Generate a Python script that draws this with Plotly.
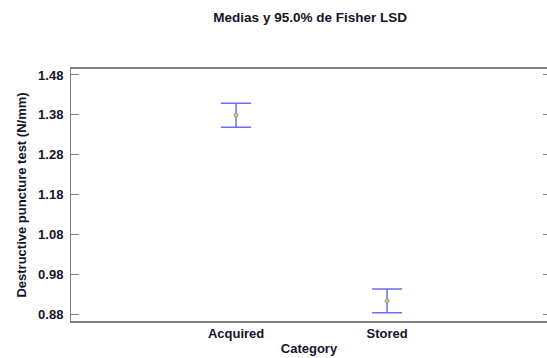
import plotly.graph_objects as go

# Category means and Fisher LSD 95% half-widths
categories = ["Acquired", "Stored"]
means = [1.379, 0.913]
lsd_half = [0.030, 0.030]

y_ticks = [0.88, 0.98, 1.08, 1.18, 1.28, 1.38, 1.48]

font_family = "Arial, Liberation Sans, sans-serif"
frame_color = "#808080"
text_color = "#14142b"

fig = go.Figure()

fig.add_trace(go.Scatter(
    x=categories,
    y=means,
    mode="markers",
    marker=dict(size=4, color="#c9c9a6", line=dict(color="#9a9a78", width=1)),
    error_y=dict(type="data", array=lsd_half, visible=True,
                 color="#6b6bff", thickness=1.5, width=15),
    showlegend=False,
    hoverinfo="x+y",
))

# invisible trace to drive the right-hand tick axis
fig.add_trace(go.Scatter(x=categories, y=means, mode="markers",
                         marker=dict(opacity=0), yaxis="y2",
                         showlegend=False, hoverinfo="skip"))

fig.update_layout(
    width=547, height=358,
    margin=dict(l=71, r=0, t=69, b=37),
    paper_bgcolor="white", plot_bgcolor="white",
    font=dict(family=font_family, color=text_color),
    title=dict(text="<b>Medias y 95.0% de Fisher LSD</b>",
               x=0.567, xanchor="center", y=0.952, yanchor="middle",
               font=dict(size=13.5, color=text_color)),
    xaxis=dict(
        type="category",
        range=[-1.093, 2.059],
        showgrid=False, zeroline=False,
        showline=True, linecolor=frame_color, linewidth=1.5, mirror=True,
        ticks="", tickfont=dict(size=13, family=font_family),
        tickprefix="<b>", ticksuffix="</b>",
        title=dict(text="<b>Category</b>", font=dict(size=13), standoff=4),
    ),
    yaxis=dict(
        range=[0.8625, 1.495],
        tickvals=y_ticks,
        ticktext=[f"<b>{v:.2f}</b>" for v in y_ticks],
        showgrid=False, zeroline=False,
        showline=True, linecolor=frame_color, linewidth=1,
        ticks="inside", ticklen=8, tickcolor=frame_color, tickwidth=1,
        ticklabelstandoff=4,
        tickfont=dict(size=13, family=font_family),
        title=dict(text="<b>Destructive puncture test (N/mm)</b>",
                   font=dict(size=13), standoff=8),
    ),
    yaxis2=dict(
        overlaying="y", side="right", matches="y",
        tickvals=y_ticks, showticklabels=False,
        showgrid=False, zeroline=False, showline=False,
        ticks="inside", ticklen=4, tickcolor=frame_color, tickwidth=1,
    ),
)

fig.write_html("out.html")
